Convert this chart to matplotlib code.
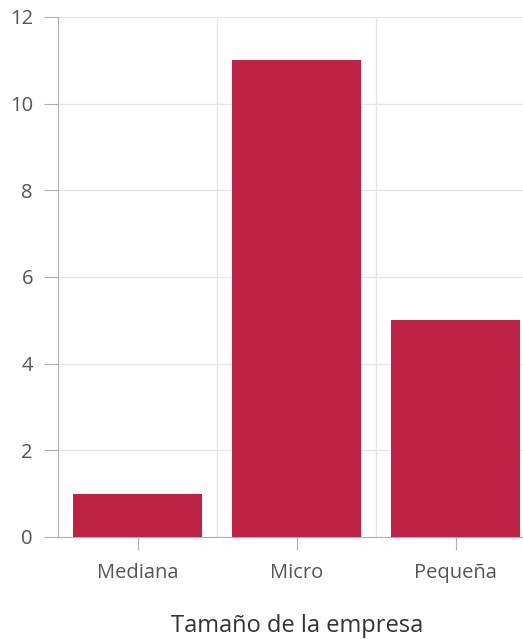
import matplotlib
matplotlib.use("Agg")
import matplotlib.pyplot as plt

categorias = ["Mediana", "Micro", "Pequeña"]
valores = [1, 11, 5]
yticks = [0, 2, 4, 6, 8, 10, 12]

plt.rcParams['font.family'] = ['Open Sans', 'DejaVu Sans']

fig = plt.figure(figsize=(5.23, 6.39), dpi=100)
ax = fig.add_axes([58 / 523, 102 / 639, 465 / 523, 520 / 639])

x = range(len(categorias))
ax.bar(x, valores, width=0.81, color="#BE2345", zorder=3)

ax.set_ylim(0, 12)
ax.set_xlim(-0.5, -0.5 + 465 / 159)
ax.set_yticks(yticks)
ax.set_yticklabels([str(v) for v in yticks])
ax.set_xticks(list(x))
ax.set_xticklabels(categorias)

# horizontal grid lines and separators between categories
ax.grid(axis="y", color="#e6e6e6", linewidth=1, zorder=0)
for b in [0.5, 1.5]:
    ax.axvline(b, color="#e6e6e6", linewidth=1, zorder=0)

for s in ["top", "right"]:
    ax.spines[s].set_visible(False)
ax.spines["left"].set_color("#b0b0b0")
ax.spines["bottom"].set_color("#b0b0b0")

ax.tick_params(axis="y", length=10, color="#b0b0b0", labelsize=14.5, labelcolor="#555555", pad=8)
ax.tick_params(axis="x", length=9, color="#b0b0b0", labelsize=14.5, labelcolor="#555555", pad=10)

# plot area is cut on the right, label centred on the full width
ax.set_xlabel("Tamaño de la empresa", fontsize=17, color="#333333", labelpad=22,
              x=(297 - 58) / 465)

fig.savefig("out.png", dpi=100)
